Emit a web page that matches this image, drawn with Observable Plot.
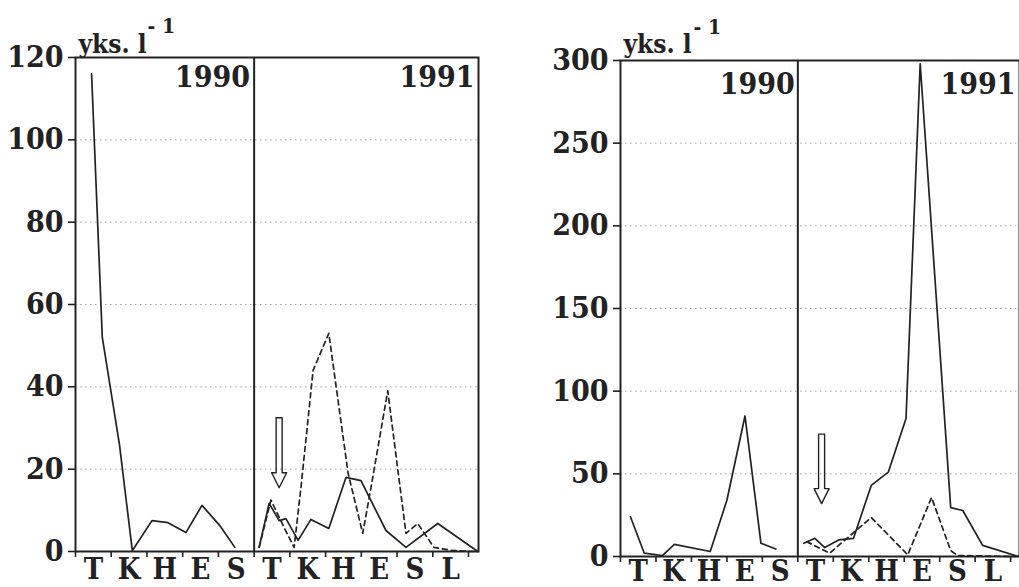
<!DOCTYPE html>
<html><head><meta charset="utf-8">
<script src="https://cdn.jsdelivr.net/npm/d3@7"></script>
<script src="https://cdn.jsdelivr.net/npm/@observablehq/plot@0.6"></script>
<style>
body{margin:0;background:#fff;}
#wrap{position:relative;width:1019px;height:587px;overflow:hidden;background:#fff;}
#wrap svg{position:absolute;top:0;}
</style></head><body><div id="wrap"></div>
<script>
// ---- categories / tick labels ----
const monthLabels1990 = ["T","K","H","E","S"];
const monthLabels1991 = ["T","K","H","E","S","L"];
const yearLabels = ["1990","1991"];
const unitLabel = "yks. l";
const unitSup = "- 1";
const leftTicks = [0,20,40,60,80,100,120];
const rightTicks = [0,50,100,150,200,250,300];

// ---- left chart: time in months from 1 May of each year, values ----
const aSolid1990T = [0.45,0.75,1.23,1.59,2.14,2.59,3.09,3.54,4.04,4.46];
const aSolid1990V = [116,52,26,0.2,7.5,7,4.6,11.2,6.3,1];
const aSolid1991T = [0.14,0.42,0.70,0.89,1.23,1.59,2.09,2.57,2.99,3.69,4.25,5.14,6.26];
const aSolid1991V = [1,11.7,7.5,8,2.7,7.8,5.6,18,17.2,5.1,1,6.8,0];
const aDash1991T = [0.14,0.47,0.84,1.12,1.31,1.65,2.09,2.63,3.04,3.27,3.74,4.25,4.58,5.03,5.50,6.15];
const aDash1991V = [1,12.5,5.8,1,15.5,44,53,19,4.4,15.5,39,4.4,6.8,1,0.3,0];
const aArrow = {t: 0.7, top: 32.5, tip: 15.5};

// ---- right chart ----
const bSolid1990T = [0.28,0.67,1.18,1.52,2.53,3.0,3.51,3.96,4.38];
const bSolid1990V = [24,2,0.6,7.3,3,34,85,8,4.5];
const bSolid1991T = [0.17,0.48,0.76,1.15,1.57,2.07,2.55,3.05,3.45,4.31,4.65,5.21,6.22];
const bSolid1991V = [8,11,5.4,10,11,43,51,83.5,298,29.6,27.8,6.7,0];
const bDash1991T = [0.25,0.62,0.9,1.15,2.07,3.1,3.77,4.31,4.5,6.15];
const bDash1991V = [9,5,2,6.7,23.6,1,35.7,3.6,0.6,0];
const bArrow = {t: 0.67, top: 74, tip: 32};

const FONT = '"DejaVu Serif Condensed","DejaVu Serif",serif';
const INK = "#222";

function rows(T, V, offset) { return T.map((t, i) => ({x: offset + t, v: V[i]})); }

function arrowPoly(a, pxMonth, pxUnit) {
  const x = 5 + a.t;
  const sw = 3 / pxMonth, hw = 7.5 / pxMonth, hh = 15 / pxUnit;
  const neck = a.tip + hh;
  return [
    {x: x - sw, v: a.top}, {x: x + sw, v: a.top}, {x: x + sw, v: neck},
    {x: x + hw, v: neck}, {x: x, v: a.tip}, {x: x - hw, v: neck},
    {x: x - sw, v: neck}, {x: x - sw, v: a.top}
  ];
}

function panel(cfg) {
  const {width, height, mL, mR, mT, mB, xMax, yMax, ticks, solid1990, solid1991, dash1991, arrow, L} = cfg;
  const pxMonth = (width - mL - mR) / xMax;
  const pxUnit = (height - mT - mB) / yMax;
  const labels = [
    ...monthLabels1990.map((s, i) => ({x: i + 0.5, s})),
    ...monthLabels1991.map((s, i) => ({x: 5 + i + 0.5, s}))
  ];
  return Plot.plot({
    width, height,
    marginLeft: mL, marginRight: mR, marginTop: mT, marginBottom: mB,
    x: {domain: [0, xMax], axis: null},
    y: {domain: [0, yMax], axis: null},
    style: {fontFamily: FONT, fontWeight: "bold", color: INK, fontStretch: "condensed", background: "transparent", overflow: "visible"},
    marks: [
      Plot.gridY({ticks: ticks.slice(1, -1), stroke: "#444", strokeOpacity: 0.5, strokeWidth: 1, strokeDasharray: "1.5,3.5"}),
      Plot.axisY({ticks, tickSize: 7, tickPadding: 5, fontSize: 30, label: null, strokeWidth: 1.6}),
      Plot.axisX({ticks: d3.range(0, 12), tickSize: 6, tickFormat: () => "", label: null, strokeWidth: 1.6}),
      Plot.text(labels, {x: "x", text: "s", frameAnchor: "bottom", lineAnchor: "bottom", dy: L.xlabDy, fontSize: 29}),
      Plot.frame({stroke: INK, strokeWidth: 2}),
      Plot.ruleX([5], {stroke: INK, strokeWidth: 2}),
      Plot.text([yearLabels[0]], {x: 5, frameAnchor: "top", textAnchor: "end", lineAnchor: "top", dx: L.y90dx, dy: L.yearDy, fontSize: 30}),
      Plot.text([yearLabels[1]], {x: xMax, frameAnchor: "top", textAnchor: "end", lineAnchor: "top", dx: L.y91dx, dy: L.yearDy, fontSize: 30}),
      Plot.text([unitLabel], {frameAnchor: "top-left", textAnchor: "start", lineAnchor: "bottom", dx: 3, dy: L.unitDy, fontSize: 26}),
      Plot.text([unitSup], {frameAnchor: "top-left", textAnchor: "start", lineAnchor: "bottom", dx: L.supDx, dy: L.supDy, fontSize: 21}),
      Plot.line(rows(solid1990.T, solid1990.V, 0), {x: "x", y: "v", stroke: INK, strokeWidth: 1.7}),
      Plot.line(rows(solid1991.T, solid1991.V, 5), {x: "x", y: "v", stroke: INK, strokeWidth: 1.7}),
      Plot.line(rows(dash1991.T, dash1991.V, 5), {x: "x", y: "v", stroke: INK, strokeWidth: 1.7, strokeDasharray: "5,4"}),
      Plot.line(arrowPoly(arrow, pxMonth, pxUnit), {x: "x", y: "v", stroke: INK, strokeWidth: 1.4, fill: "none"})
    ]
  });
}

const wrap = document.getElementById("wrap");
const left = panel({
  width: 500, height: 587, mL: 75, mR: 22, mT: 57, mB: 36, xMax: 11.28, yMax: 120, ticks: leftTicks,
  solid1990: {T: aSolid1990T, V: aSolid1990V},
  solid1991: {T: aSolid1991T, V: aSolid1991V},
  dash1991: {T: aDash1991T, V: aDash1991V},
  arrow: aArrow,
  L: {xlabDy: 27, y90dx: -4, y91dx: -4, yearDy: 8, unitDy: -5, supDx: 72, supDy: -25}
});
left.style.left = "0px";
wrap.appendChild(left);

const right = panel({
  width: 519, height: 587, mL: 120, mR: 0, mT: 60, mB: 31, xMax: 11.25, yMax: 300, ticks: rightTicks,
  solid1990: {T: bSolid1990T, V: bSolid1990V},
  solid1991: {T: bSolid1991T, V: bSolid1991V},
  dash1991: {T: bDash1991T, V: bDash1991V},
  arrow: bArrow,
  L: {xlabDy: 24, y90dx: -3, y91dx: -4, yearDy: 12, unitDy: -8, supDx: 73, supDy: -27}
});
right.style.left = "500px";
wrap.appendChild(right);
</script>
</body></html>
